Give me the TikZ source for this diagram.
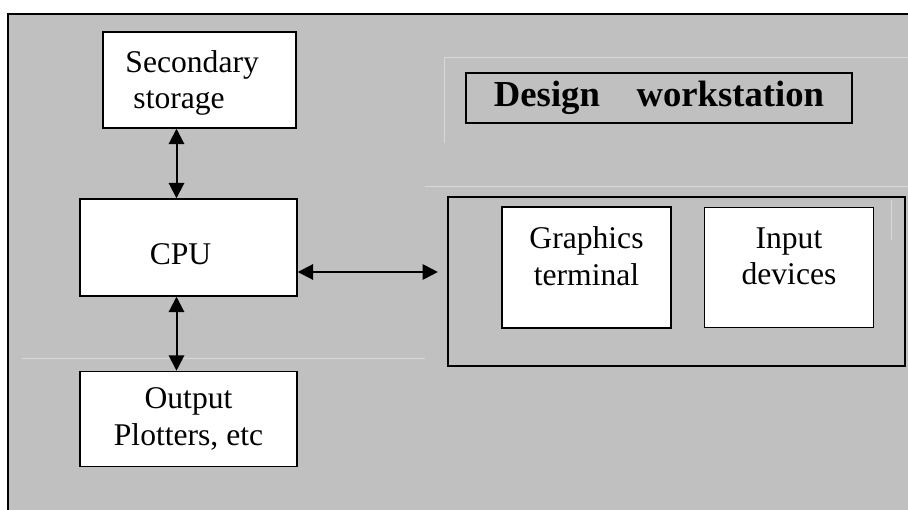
\documentclass[tikz,border=0pt]{standalone}
\usepackage{fontspec}
\setmainfont{Liberation Serif}
\usetikzlibrary{arrows.meta,positioning}
\definecolor{grisFondo}{HTML}{C0C0C0}
\definecolor{grisTenue}{HTML}{D8D8D8}
\tikzset{
  caja/.style={draw,fill=white,line width=1.1pt,align=center,inner sep=0pt,
    font=\fontsize{23.7pt}{27.5pt}\selectfont},
  marco/.style={draw,line width=1.6pt,inner sep=0pt},
  flecha/.style={<->,line width=1.5pt},
}
\begin{document}
\begin{tikzpicture}[x=.75pt,y=-.75pt,>={Triangle[length=11.5pt,width=11.5pt]}]
  \path[use as bounding box] (0,0) rectangle (908,510);
  \clip (0,0) rectangle (908,510);
  \draw[line width=2pt,fill=grisFondo] (8,14) rectangle (930,530);
  % faint guide lines
  \draw[grisTenue,line width=.6pt] (444,143) -- (444,57) -- (908,57);
  \draw[grisTenue,line width=.6pt] (425,186) -- (908,186);
  \draw[grisTenue,line width=.6pt] (22,358) -- (425,358);
  \draw[grisTenue,line width=.6pt] (891,200) -- (891,240);

  \node[caja,align=left,minimum width=144.75pt,minimum height=72pt]
    (storage) at (199.5,80) {\rule{0pt}{20.7pt}Secondary\hspace*{11pt}\\\hspace*{6pt}storage};
  \node[caja,minimum width=162.75pt,minimum height=72.75pt]
    (cpu) at (188.5,247.5) {\rule{0pt}{26pt}CPU\hspace*{12pt}};
  \node[caja,minimum width=162.75pt,minimum height=71.25pt,below=55.5pt of cpu]
    (plotter) {Output\\Plotters, etc};

  \node[marco,minimum width=289.5pt,minimum height=37.5pt,
    font=\fontsize{27.5pt}{33pt}\selectfont\bfseries]
    (title) at (659,98) {Design\quad workstation};
  \node[marco,minimum width=342.75pt,minimum height=126.75pt]
    (ws) at (676.5,281.5) {};
  \node[caja,minimum width=126.75pt,minimum height=90.75pt]
    (graphics) at (586.5,267.5) {Graphics\\terminal\rule[-17pt]{0pt}{17pt}};
  \node[caja,minimum width=126.75pt,minimum height=90pt,right=24pt of graphics]
    (inputdev) {Input\\devices\rule[-17pt]{0pt}{17pt}};

  \coordinate (busv) at (176.5,0);
  \coordinate (bush) at (0,272);
  \draw[flecha] (storage.south -| busv) -- (cpu.north -| busv);
  \draw[flecha] (cpu.south -| busv) -- (plotter.north -| busv);
  \draw[flecha,shorten >=6.75pt] (cpu.east |- bush) -- (ws.west |- bush);
\end{tikzpicture}
\end{document}
